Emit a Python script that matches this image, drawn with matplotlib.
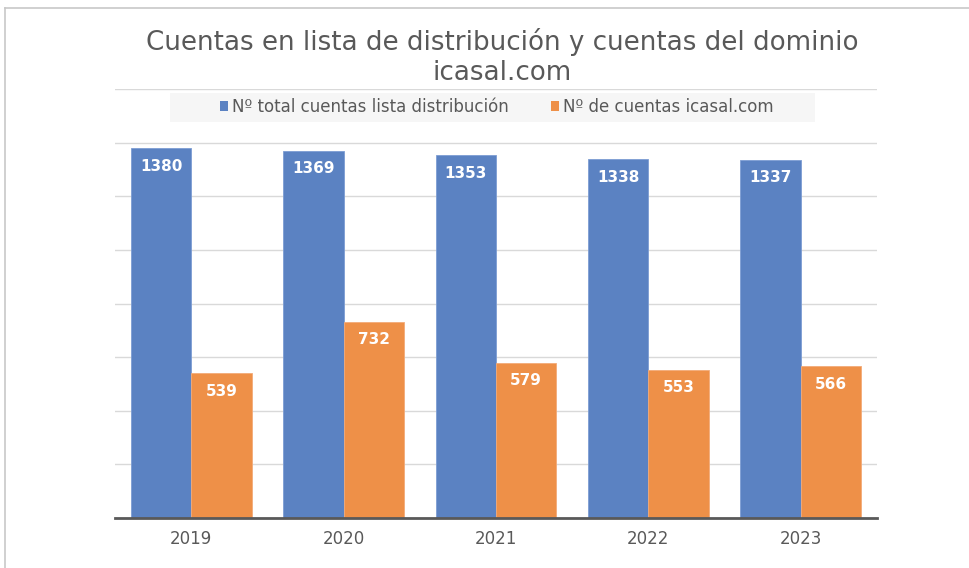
import matplotlib
matplotlib.use("Agg")
import matplotlib.pyplot as plt
from matplotlib.lines import Line2D
from matplotlib.patches import Rectangle, Patch
import numpy as np

years = ["2019", "2020", "2021", "2022", "2023"]
total_cuentas = [1380, 1369, 1353, 1338, 1337]
cuentas_icasal = [539, 732, 579, 553, 566]
series_names = ["Nº total cuentas lista distribución", "Nº de cuentas icasal.com"]
title = "Cuentas en lista de distribución y cuentas del dominio\nicasal.com"

blue = "#5b82c2"
orange = "#ee9048"
gray_text = "#595959"

W, H = 969, 568
fig = plt.figure(figsize=(W / 100, H / 100), dpi=100)
fig.patch.set_facecolor("white")

ax = fig.add_axes([115 / W, 1 - 518 / H, (877 - 115) / W, (518 - 89) / H])
x = np.arange(len(years))
bw = 0.396
b1 = ax.bar(x - bw / 2, total_cuentas, bw, color=blue, edgecolor="#7d9dd3", linewidth=0.6, zorder=3)
b2 = ax.bar(x + bw / 2, cuentas_icasal, bw, color=orange, edgecolor="#f3ab78", linewidth=0.6, zorder=3)

for bars, vals in ((b1, total_cuentas), (b2, cuentas_icasal)):
    for rect, v in zip(bars, vals):
        ax.annotate(str(v), (rect.get_x() + rect.get_width() / 2, v),
                    xytext=(0, -13), textcoords="offset points",
                    ha="center", va="center", color="white",
                    fontweight="bold", fontsize=11, family="DejaVu Sans", zorder=4)

ax.set_xlim(-0.5, len(years) - 0.5)
ax.set_ylim(0, 1600)
ax.set_yticks(np.arange(0, 1601, 200))
ax.yaxis.grid(True, color="#d9d9d9", linewidth=1.0, zorder=0)
ax.set_axisbelow(True)
ax.tick_params(axis="y", left=False, labelleft=False)
ax.set_xticks(x)
ax.set_xticklabels(years, fontsize=12, color=gray_text, family="DejaVu Sans")
ax.tick_params(axis="x", length=0, pad=8.5)
for s in ("top", "right", "left"):
    ax.spines[s].set_visible(False)
ax.spines["bottom"].set_color("#595959")
ax.spines["bottom"].set_linewidth(2.0)
ax.spines["bottom"].set_zorder(5)

# legend background
fig.add_artist(Rectangle((170 / W, 1 - 122 / H), (815 - 170) / W, (122 - 93) / H,
                         transform=fig.transFigure, facecolor="#f6f6f6",
                         edgecolor="none", zorder=2))
handles = [Patch(facecolor=blue), Patch(facecolor=orange)]
leg = fig.legend(handles, series_names, loc="center", bbox_to_anchor=(497 / W, 1 - 107 / H),
                 ncol=2, frameon=False, handlelength=0.5, handleheight=0.5,
                 handletextpad=0.25, columnspacing=2.5,
                 prop={"family": "DejaVu Sans", "size": 12})
for t in leg.get_texts():
    t.set_color(gray_text)
leg.set_zorder(3)

fig.text(502 / W, 1 - 57 / H, title, ha="center", va="center", fontsize=18.8,
         color=gray_text, family="DejaVu Sans", linespacing=1.16)

# outer frame lines
fig.add_artist(Line2D([5 / W, 1.0], [1 - 8 / H, 1 - 8 / H], transform=fig.transFigure,
                      color="#c8c8c8", linewidth=1.2))
fig.add_artist(Line2D([5 / W, 5 / W], [0, 1 - 8 / H], transform=fig.transFigure,
                      color="#c8c8c8", linewidth=1.2))

fig.savefig("out.png", dpi=100)
